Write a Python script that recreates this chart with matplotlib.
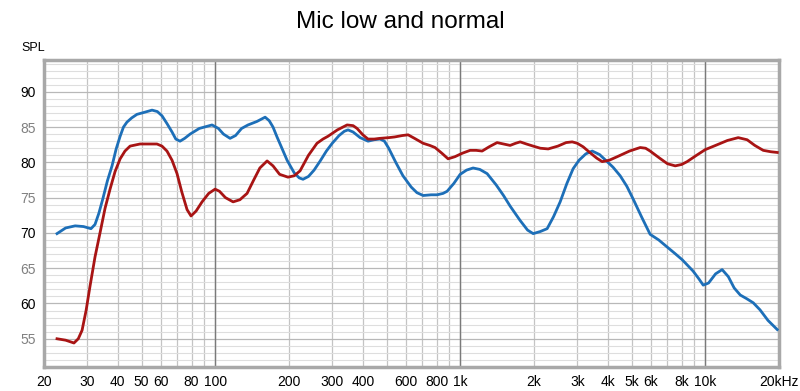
import matplotlib.pyplot as plt
from matplotlib.ticker import FixedLocator, NullFormatter

plt.rcParams['font.family'] = ['Liberation Sans', 'DejaVu Sans']

# blue trace (normal)
blue_f = [22.6, 24.5, 26.8, 29.0, 31.1, 32.3, 33.5, 34.8, 36.3, 37.9, 39.4,
          40.9, 42.2, 43.6, 45.6, 47.9, 51.5, 55.2, 58.0, 60.6, 63.5, 66.6,
          69.0, 71.8, 75.0, 78.9, 86, 97.0, 103, 108, 114.9, 121, 128, 136,
          148, 159.7, 166, 172, 178.6, 187, 196.3, 210, 220, 228, 240, 253,
          268, 284, 300, 320, 336, 348, 365, 390, 420, 445, 470, 490, 510,
          545, 583, 630, 665, 705, 760, 804, 850, 883, 940, 998, 1060, 1127,
          1200, 1286, 1400, 1500, 1596, 1750, 1880, 1982, 2120, 2260, 2400,
          2554, 2720, 2885, 3050, 3250, 3453, 3700, 3973, 4200, 4488, 4780,
          5071, 5500, 5948, 6450, 6980, 7500, 8040, 8900, 9400, 9795, 10300,
          11000, 11700, 12400, 13100, 13870, 14700, 15670, 16700, 18000,
          19640]
blue_spl = [69.9, 70.7, 71.0, 70.9, 70.6, 71.2, 72.8, 74.9, 77.4, 79.5, 81.9,
            83.7, 85.0, 85.7, 86.3, 86.8, 87.1, 87.4, 87.2, 86.6, 85.5, 84.3,
            83.3, 83.0, 83.4, 84.0, 84.8, 85.3, 84.8, 84.0, 83.4, 83.8, 84.8,
            85.3, 85.8, 86.4, 85.9, 85.0, 83.6, 82.0, 80.3, 78.5, 77.8, 77.6,
            78.0, 78.9, 80.2, 81.6, 82.7, 83.8, 84.4, 84.6, 84.3, 83.5, 83.0,
            83.2, 83.3, 83.0, 82.0, 80.0, 78.1, 76.5, 75.7, 75.3, 75.4, 75.4,
            75.6, 75.9, 77.0, 78.3, 78.9, 79.2, 79.0, 78.4, 76.8, 75.3, 73.8,
            71.8, 70.4, 69.9, 70.2, 70.6, 72.3, 74.4, 77.0, 79.1, 80.3, 81.2,
            81.6, 81.1, 80.1, 79.3, 78.1, 76.6, 74.8, 72.2, 69.8, 69.0, 68.0,
            67.1, 66.2, 64.6, 63.5, 62.6, 62.9, 64.2, 64.8, 63.8, 62.2, 61.2,
            60.7, 60.1, 59.1, 57.6, 56.3]

# red trace (mic low)
red_f = [22.6, 24.5, 26.5, 27.6, 28.6, 29.7, 30.8, 32.3, 33.9, 35.5, 37.2,
         39.0, 40.9, 42.8, 44.9, 49.3, 53, 57.8, 60.6, 63.5, 66.6, 69.8, 73,
         76.7, 79.6, 83.5, 88.3, 94, 99.8, 104, 110, 118.2, 126, 134.8, 143,
         152, 162.7, 172, 183, 198, 210, 221.8, 240, 260, 275, 288.5, 315,
         345, 365, 379, 400, 420, 445, 470, 510, 540, 580, 612, 650, 705, 750,
         788, 840, 891, 950, 1020, 1096, 1160, 1227, 1310, 1412, 1500, 1596,
         1680, 1754, 1860, 1982, 2120, 2282, 2500, 2700, 2860, 3000, 3170,
         3400, 3600, 3791, 4050, 4366, 4900, 5419, 5700, 5948, 6500, 7000,
         7530, 8000, 8419, 9200, 9980, 11000, 12300, 13610, 14800, 15900,
         17210, 18500, 19640]
red_spl = [55.0, 54.8, 54.4, 55.0, 56.2, 59.0, 62.4, 66.6, 70.1, 73.5, 76.2,
           78.7, 80.5, 81.6, 82.3, 82.6, 82.6, 82.6, 82.3, 81.6, 80.3, 78.4,
           75.8, 73.3, 72.4, 73.1, 74.4, 75.6, 76.2, 75.9, 75.0, 74.4, 74.7,
           75.6, 77.4, 79.2, 80.2, 79.5, 78.3, 77.9, 78.1, 78.8, 81.0, 82.7,
           83.3, 83.7, 84.6, 85.3, 85.2, 84.8, 83.9, 83.3, 83.3, 83.4, 83.5,
           83.6, 83.8, 83.9, 83.4, 82.7, 82.4, 82.1, 81.3, 80.5, 80.8, 81.3,
           81.7, 81.7, 81.6, 82.2, 82.8, 82.6, 82.4, 82.7, 82.9, 82.6, 82.3,
           82.0, 81.9, 82.3, 82.8, 82.9, 82.7, 82.2, 81.3, 80.6, 80.1, 80.3,
           80.8, 81.6, 82.1, 82.0, 81.6, 80.6, 79.8, 79.5, 79.7, 80.1, 81.0,
           81.8, 82.4, 83.1, 83.5, 83.2, 82.4, 81.7, 81.5, 81.4]

x_ticks = [20, 30, 40, 50, 60, 80, 100, 200, 300, 400, 600, 800, 1000,
           2000, 3000, 4000, 5000, 6000, 8000, 10000, 20000]
x_labels = ['20', '30', '40', '50', '60', '80', '100', '200', '300', '400',
            '600', '800', '1k', '2k', '3k', '4k', '5k', '6k', '8k', '10k',
            '20kHz']
y_ticks = [55, 60, 65, 70, 75, 80, 85, 90]

fig = plt.figure(figsize=(8, 3.91), dpi=100)
ax = fig.add_axes([0.055, 0.0614, 0.919, 0.7851])
ax.set_xscale('log')
ax.set_xlim(20, 20000)
ax.set_ylim(51, 94.5)

# grid
ax.xaxis.set_major_locator(FixedLocator(x_ticks))
ax.xaxis.set_minor_locator(FixedLocator([70, 90, 500, 700, 900, 7000, 9000]))
ax.xaxis.set_minor_formatter(NullFormatter())
ax.yaxis.set_major_locator(FixedLocator(y_ticks))
ax.yaxis.set_minor_locator(FixedLocator(range(52, 95)))
ax.grid(True, which='major', axis='y', color='#b8b8b8', lw=0.9)
ax.grid(True, which='minor', axis='y', color='#dedede', lw=0.8)
ax.grid(True, which='both', axis='x', color='#c4c4c4', lw=0.9)
for d in [100, 1000, 10000]:
    ax.axvline(d, color='#7a7a7a', lw=1.0, zorder=1)
ax.set_axisbelow(True)

ax.plot(blue_f, blue_spl, color='#1d6fb8', lw=2, zorder=3)
ax.plot(red_f, red_spl, color='#a81414', lw=2, zorder=3)

ax.set_xticks(x_ticks)
ax.set_xticklabels(x_labels)
ax.set_yticks(y_ticks)
ax.set_yticklabels([str(v) for v in y_ticks])
ax.tick_params(which='both', length=0, labelsize=10, pad=6)
for lab, v in zip(ax.get_yticklabels(), y_ticks):
    lab.set_color('#000000' if v % 10 == 0 else '#808080')

for s in ax.spines.values():
    s.set_color('#a8a8a8')
    s.set_linewidth(2.5)

fig.text(0.5, 0.945, 'Mic low and normal', ha='center', va='center',
         fontsize=17.5)
fig.text(0.042, 0.877, 'SPL', ha='center', va='center', fontsize=9)

fig.savefig('out.png', dpi=100)
